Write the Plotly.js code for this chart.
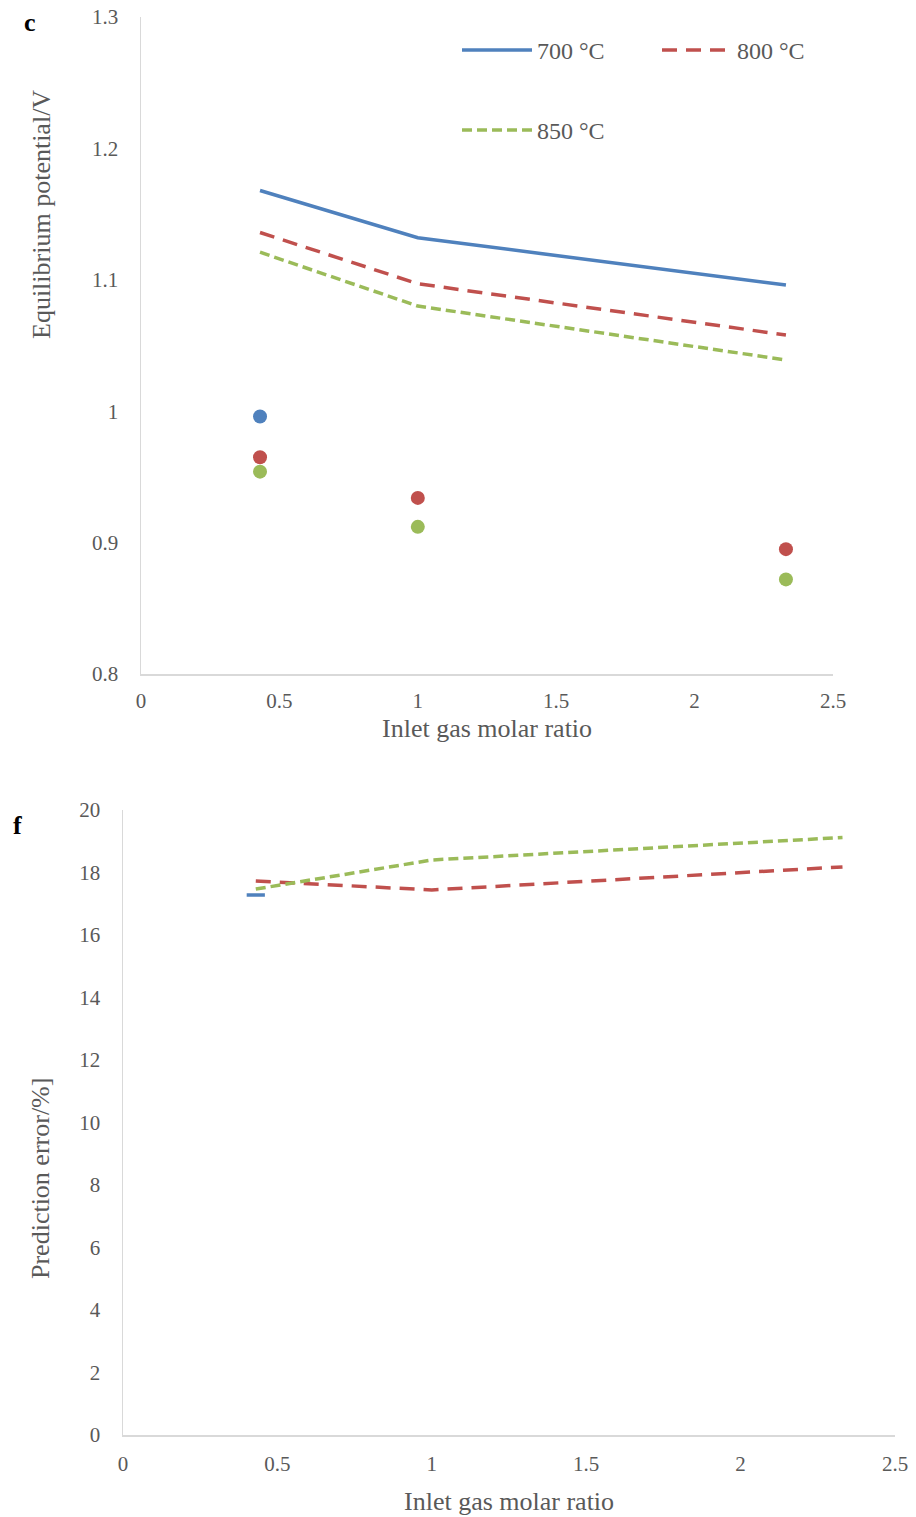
<!DOCTYPE html>
<html>
<head>
<meta charset="utf-8">
<script src="https://cdn.plot.ly/plotly-3.0.1.min.js"></script>
<style>html,body{margin:0;padding:0;background:#fff;}</style>
</head>
<body>
<div id="chart"></div>
<script>
// Data
var ratio = [0.43, 1, 2.33];
var eq700 = [1.168, 1.132, 1.096];
var eq800 = [1.136, 1.097, 1.058];
var eq850 = [1.121, 1.080, 1.039];
var expRatio700 = [0.43];
var exp700 = [0.996];
var exp800 = [0.965, 0.934, 0.895];
var exp850 = [0.954, 0.912, 0.872];
var err700 = [17.28];
var err800 = [17.73, 17.44, 18.18];
var err850 = [17.47, 18.40, 19.12];
var seriesNames = ['700 \u00B0C', '800 \u00B0C', '850 \u00B0C'];

(function(){
var BLUE = '#4F81BD', RED = '#C0504D', GREEN = '#9BBB59';
var FONT = 'Liberation Serif, Times New Roman, serif';
var TXT = '#595959';
var PW = 916, PH = 1517;
var DASH800 = '15px,9px', DASH850 = '10px,5px';
function px(x){return x/PW;}
function py(y){return 1 - y/PH;}

var traces = [
  {x: ratio, y: eq700, mode: 'lines', name: seriesNames[0], line: {color: BLUE, width: 3.5}, legend: 'legend', xaxis: 'x', yaxis: 'y'},
  {x: ratio, y: eq800, mode: 'lines', name: seriesNames[1], line: {color: RED, width: 3.5, dash: DASH800}, legend: 'legend3', xaxis: 'x', yaxis: 'y'},
  {x: ratio, y: eq850, mode: 'lines', name: seriesNames[2], line: {color: GREEN, width: 3.5, dash: DASH850}, legend: 'legend2', xaxis: 'x', yaxis: 'y'},
  {x: expRatio700, y: exp700, mode: 'markers', showlegend: false, marker: {color: BLUE, size: 14}, xaxis: 'x', yaxis: 'y'},
  {x: ratio, y: exp800, mode: 'markers', showlegend: false, marker: {color: RED, size: 14}, xaxis: 'x', yaxis: 'y'},
  {x: ratio, y: exp850, mode: 'markers', showlegend: false, marker: {color: GREEN, size: 14}, xaxis: 'x', yaxis: 'y'},
  {x: expRatio700, y: err700, mode: 'markers', showlegend: false, marker: {symbol: 'line-ew', size: 13, color: BLUE, line: {color: BLUE, width: 3.5}}, xaxis: 'x2', yaxis: 'y2'},
  {x: ratio, y: err800, mode: 'lines', showlegend: false, line: {color: RED, width: 3.5, dash: DASH800}, xaxis: 'x2', yaxis: 'y2'},
  {x: ratio, y: err850, mode: 'lines', showlegend: false, line: {color: GREEN, width: 3.5, dash: DASH850}, xaxis: 'x2', yaxis: 'y2'}
];

var axFont = {family: FONT, size: 21, color: TXT};
function xax(domain, anchor, standoff){
  return {domain: domain, anchor: anchor, range: [0, 2.5], dtick: 0.5, tick0: 0, showgrid: false, zeroline: false,
    showline: true, linecolor: '#d9d9d9', linewidth: 1.5, ticks: '', tickfont: axFont, ticklabelstandoff: standoff};
}
function yax(domain, anchor, range, dtick){
  return {domain: domain, anchor: anchor, range: range, dtick: dtick, showgrid: false, zeroline: false,
    showline: true, linecolor: '#d9d9d9', linewidth: 1.5, ticks: '', tickfont: axFont, ticklabelstandoff: 17};
}
function leg(x, y){
  return {orientation: 'h', x: px(x), y: py(y), xanchor: 'left', yanchor: 'top', bgcolor: 'rgba(0,0,0,0)',
    font: {family: FONT, size: 24, color: TXT}, itemwidth: 70};
}

var titleFont = {family: FONT, size: 26, color: TXT};
var layout = {
  width: 916, height: 1517,
  margin: {l: 0, r: 0, t: 0, b: 0},
  paper_bgcolor: '#fff', plot_bgcolor: '#fff',
  font: {family: FONT, color: TXT},
  showlegend: true,
  xaxis: xax([px(141), px(833)], 'y', 7),
  yaxis: yax([py(674), py(17)], 'x', [0.8, 1.3], 0.1),
  xaxis2: xax([px(123), px(895)], 'y2', 9),
  yaxis2: yax([py(1435), py(810)], 'x2', [0, 20], 2),
  legend: leg(457, 28),
  legend3: leg(657, 28),
  legend2: leg(457, 108),
  annotations: [
    {text: '<b>c</b>', x: px(30), y: py(22), xref: 'paper', yref: 'paper', xanchor: 'center', yanchor: 'middle', showarrow: false, font: {family: FONT, size: 26, color: '#000'}},
    {text: '<b>f</b>', x: px(17), y: py(825), xref: 'paper', yref: 'paper', xanchor: 'center', yanchor: 'middle', showarrow: false, font: {family: FONT, size: 26, color: '#000'}},
    {text: 'Equilibrium potential/V', x: px(42), y: py(215), xref: 'paper', yref: 'paper', xanchor: 'center', yanchor: 'middle', showarrow: false, textangle: -90, font: titleFont},
    {text: 'Prediction error/%]', x: px(40), y: py(1179), xref: 'paper', yref: 'paper', xanchor: 'center', yanchor: 'middle', showarrow: false, textangle: -90, font: titleFont},
    {text: 'Inlet gas molar ratio', x: px(487), y: py(728), xref: 'paper', yref: 'paper', xanchor: 'center', yanchor: 'middle', showarrow: false, font: titleFont},
    {text: 'Inlet gas molar ratio', x: px(509), y: py(1501), xref: 'paper', yref: 'paper', xanchor: 'center', yanchor: 'middle', showarrow: false, font: titleFont}
  ]
};

Plotly.newPlot('chart', traces, layout, {displayModeBar: false, staticPlot: true});
})();
</script>
</body>
</html>
